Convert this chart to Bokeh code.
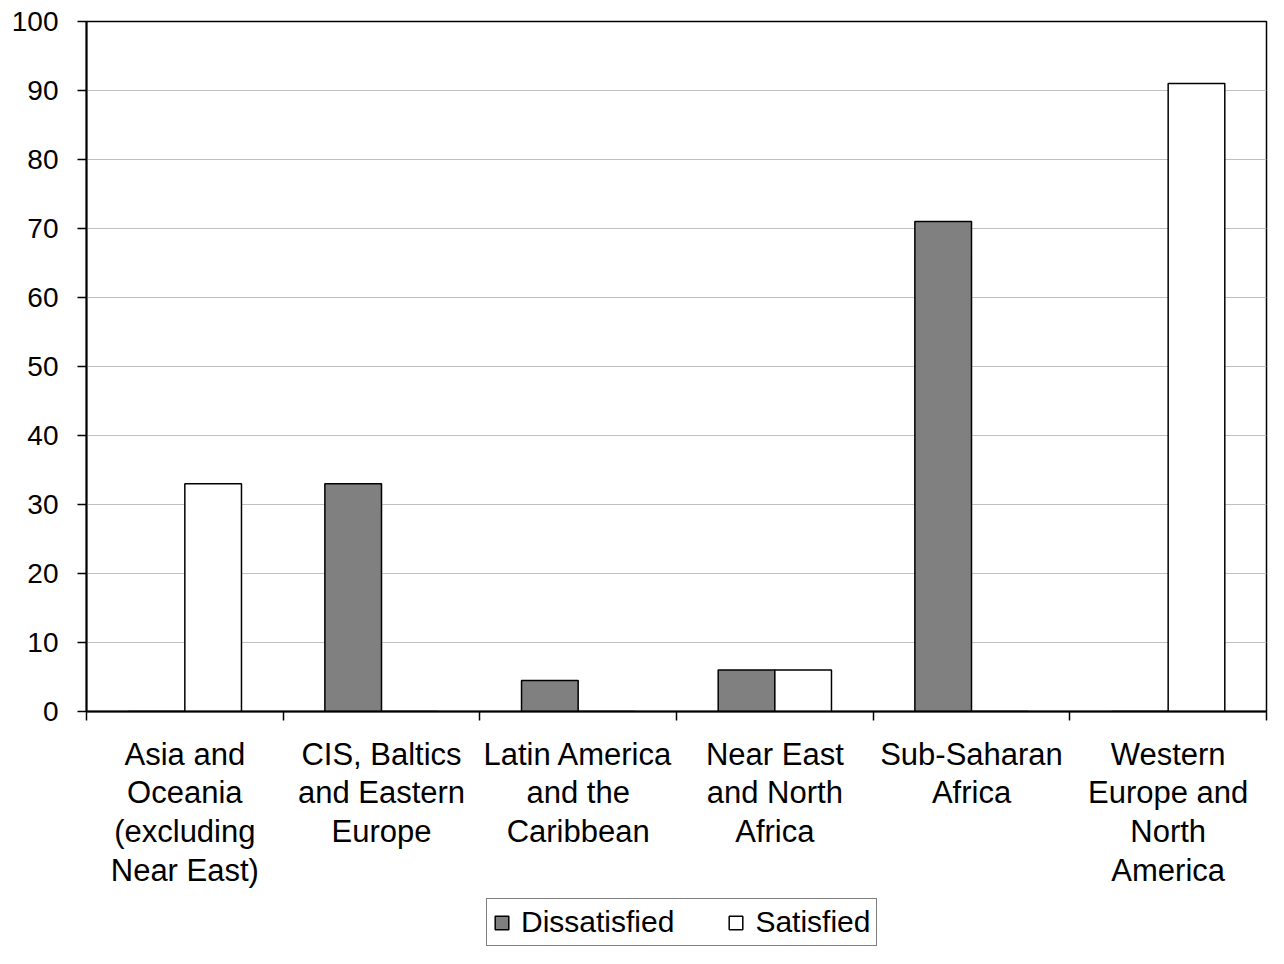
from bokeh.plotting import figure
from bokeh.layouts import column
from bokeh.models import FixedTicker, Legend, LegendItem, ColumnDataSource, Range1d
from bokeh.core.properties import value
from bokeh.embed import file_html
from bokeh.resources import INLINE

categories = [
    "Asia and Oceania (excluding Near East)",
    "CIS, Baltics and Eastern Europe",
    "Latin America and the Caribbean",
    "Near East and North Africa",
    "Sub-Saharan Africa",
    "Western Europe and North America",
]
category_labels = [
    "Asia and\nOceania\n(excluding\nNear East)",
    "CIS, Baltics\nand Eastern\nEurope",
    "Latin America\nand the\nCaribbean",
    "Near East\nand North\nAfrica",
    "Sub-Saharan\nAfrica",
    "Western\nEurope and\nNorth\nAmerica",
]
dissatisfied = [0, 33, 4.5, 6, 71, 0]
satisfied = [33, 0, 0, 6, 0, 91]
y_ticks = list(range(0, 101, 10))

FONT = "Liberation Sans"
n = len(categories)
centers = [i + 0.5 for i in range(n)]
bw = 0.288

src = ColumnDataSource(dict(
    xd=[c - bw / 2 for c in centers],
    xs=[c + bw / 2 for c in centers],
    dis=dissatisfied,
    sat=satisfied,
))

# ---------------- main chart ----------------
p = figure(frame_width=1180, frame_height=690, x_range=(0, n), y_range=(0, 100),
           output_backend="svg", toolbar_location=None,
           min_border_left=86, min_border_right=2, min_border_top=21,
           min_border_bottom=20)

p.vbar(x="xd", top="dis", width=bw, source=src, fill_color="#808080",
       line_color="black", line_width=1.5)
p.vbar(x="xs", top="sat", width=bw, source=src, fill_color="white",
       line_color="black", line_width=1.5)

p.outline_line_color = "black"
p.outline_line_width = 1.5
p.background_fill_color = "white"
p.border_fill_color = "white"

p.yaxis.ticker = FixedTicker(ticks=y_ticks)
p.yaxis.minor_tick_line_color = None
p.yaxis.major_tick_out = 9
p.yaxis.major_tick_in = 0
p.yaxis.major_tick_line_width = 1.5
p.yaxis.axis_line_width = 2
p.yaxis.axis_line_color = "black"
p.yaxis.major_label_text_font = FONT
p.yaxis.major_label_text_font_size = "28px"
p.yaxis.major_label_text_color = "black"
p.yaxis.major_label_standoff = 19
p.ygrid.grid_line_color = "#c0c0c0"
p.ygrid.grid_line_width = 1

# x axis: only boundary ticks (as minor ticks), no labels here
p.xaxis.ticker = FixedTicker(ticks=[], minor_ticks=list(range(n + 1)))
p.xaxis.minor_tick_line_color = "black"
p.xaxis.minor_tick_line_width = 1.5
p.xaxis.minor_tick_out = 9
p.xaxis.minor_tick_in = 0
p.xaxis.major_tick_out = 0
p.xaxis.axis_line_width = 2
p.xaxis.axis_line_color = "black"
p.xgrid.grid_line_color = None

# ---------------- category labels + legend ----------------
H2 = 217
q = figure(frame_width=1180, frame_height=H2, x_range=p.x_range,
           y_range=Range1d(0, H2), output_backend="svg", toolbar_location=None,
           min_border_left=86, min_border_right=2, min_border_top=0,
           min_border_bottom=0, x_axis_location=None, y_axis_location=None)
q.outline_line_color = None
q.xgrid.grid_line_color = None
q.ygrid.grid_line_color = None
q.background_fill_color = "white"
q.border_fill_color = "white"

lab_src = ColumnDataSource(dict(x=centers, y=[H2 - 5] * n, text=category_labels))
q.text(x="x", y="y", text="text", source=lab_src, text_align="center",
       text_baseline="top", text_font=value(FONT), text_font_size="31px",
       text_color="black", text_line_height=1.11)

# legend swatches: same series, hidden in this panel (shown only in the legend)
ld = q.vbar(x="xd", top="dis", width=bw, source=src, visible=False,
            fill_color="#808080", line_color="black", line_width=1.5)
ls = q.vbar(x="xs", top="sat", width=bw, source=src, visible=False,
            fill_color="white", line_color="black", line_width=1.5)

legend = Legend(items=[LegendItem(label="Dissatisfied", renderers=[ld]),
                       LegendItem(label="Satisfied", renderers=[ls])],
                orientation="horizontal", location=(400, 2))
legend.label_text_font = FONT
legend.label_text_font_size = "30px"
legend.label_text_color = "black"
legend.glyph_width = 17
legend.glyph_height = 17
legend.label_standoff = 11
legend.spacing = 53
legend.padding = 6
legend.margin = 0
legend.border_line_color = "black"
legend.border_line_width = 1.5
legend.background_fill_color = "white"
legend.background_fill_alpha = 1
legend.inactive_fill_alpha = 0
q.add_layout(legend)

layout = column(p, q, spacing=0)
open("out.html", "w").write(file_html(layout, INLINE))
